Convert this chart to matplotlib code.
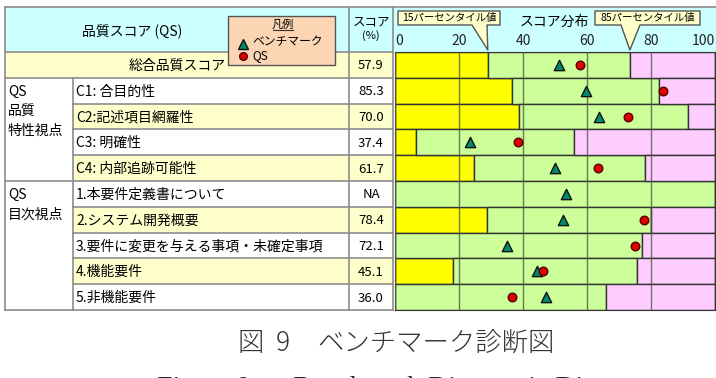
import matplotlib
matplotlib.use('Agg')
import matplotlib.pyplot as plt
from matplotlib.patches import Rectangle, Polygon
import numpy as np

plt.rcParams['font.family'] = ['Noto Sans CJK JP', 'DejaVu Sans']

# ---- data ----
items = ['総合品質スコア', 'C1: 合目的性', 'C2:記述項目網羅性', 'C3: 明確性', 'C4: 内部追跡可能性',
         '1.本要件定義書について', '2.システム開発概要', '3.要件に変更を与える事項・未確定事項',
         '4.機能要件', '5.非機能要件']
groups = [['QS', '品質', '特性視点'], ['QS', '目次視点']]
group_rows = [1, 5]
scores = [57.9, 85.3, 70.0, 37.4, 61.7, None, 78.4, 72.1, 45.1, 36.0]
p15 = [29.0, 36.5, 38.8, 6.5, 24.7, 0.0, 28.8, 0.0, 18.0, 0.0]
p85 = [73.4, 82.6, 91.5, 56.0, 78.1, 100.0, 79.9, 77.3, 75.7, 65.8]
bench = [51.2, 59.6, 63.8, 23.4, 50.0, 53.3, 52.4, 35.1, 44.3, 47.3]
qs_pos = [57.8, 83.8, 72.8, 38.3, 63.5, np.nan, 77.8, 75.0, 46.2, 36.6]
ticks = [0, 20, 40, 60, 80, 100]

W, H = 716, 378
fig = plt.figure(figsize=(W / 100, H / 100), dpi=100)
tab = fig.add_axes([0, 0, 1, 1])
tab.set_xlim(0, W)
tab.set_ylim(H, 0)
tab.axis('off')

# layout (pixels)
X0, XG, XL, XS, XR = 5, 73, 349, 393, 716
Y0, YH, RH = 7, 52, 25.8
n = len(items)
ry = [YH + RH * i for i in range(n + 1)]
BX0, BX1 = 395, 715
LC = '#8c8c8c'

# fills
tab.add_patch(Rectangle((X0, Y0), XR - X0, YH - Y0, fc='#ccffff', ec='none'))
for i in range(0, n, 2):
    x = X0 if i == 0 else XG
    tab.add_patch(Rectangle((x, ry[i]), XS - x, RH, fc='#ffffcc', ec='none'))

# table lines
tab.plot([X0, XR], [Y0, Y0], color=LC, lw=1.2)
for k in range(n + 1):
    x = X0 if k in (0, 1, 5, n) else XG
    tab.plot([x, XS], [ry[k], ry[k]], color=LC, lw=1.2)
tab.plot([X0, X0], [Y0, ry[-1]], color=LC, lw=1.2)
tab.plot([XG, XG], [ry[1], ry[-1]], color=LC, lw=1.2)
tab.plot([XL, XL], [Y0, ry[-1]], color=LC, lw=1.2)
tab.plot([XS, XS], [Y0, ry[-1]], color=LC, lw=1.2)

# texts
fs = 10
tab.text(132, 32, '品質スコア (QS)', ha='center', va='center', fontsize=fs)
tab.text(371, 22, 'スコア', ha='center', va='center', fontsize=9)
tab.text(371, 36, '(%)', ha='center', va='center', fontsize=8)
tab.text(554, 22, 'スコア分布', ha='center', va='center', fontsize=fs)
for i, (name, s) in enumerate(zip(items, scores)):
    yc = (ry[i] + ry[i + 1]) / 2 + 1
    if i == 0:
        tab.text((X0 + XL) / 2, yc, name, ha='center', va='center', fontsize=fs)
    else:
        tab.text(XG + 3, yc, name, ha='left', va='center', fontsize=fs)
    tab.text((XL + XS) / 2, yc, 'NA' if s is None else f'{s:.1f}',
             ha='center', va='center', fontsize=9.5)
for lines, r in zip(groups, group_rows):
    for j, t in enumerate(lines):
        tab.text(X0 + 3, (ry[r] + ry[r + 1]) / 2 + 1 + j * 19.7, t,
                 ha='left', va='center', fontsize=fs)

# legend box
tab.add_patch(Rectangle((228, 16), 107, 49, fc='#fcd5b4', ec='#555555', lw=1, zorder=5))
tab.text(283, 24, '凡例', ha='center', va='center', fontsize=8, zorder=6)
tab.plot([273, 293], [30, 30], color='#333333', lw=0.8, zorder=6)
tab.plot([243], [43.5], marker='^', ms=7, mfc='#00896a', mec='#111111', mew=1, zorder=6)
tab.text(252, 42, 'ベンチマーク', ha='left', va='center', fontsize=8.5, zorder=6)
tab.plot([243], [56], marker='o', ms=5.5, mfc='#e00000', mec='#550000', mew=1, zorder=6)
tab.text(252, 56, 'QS', ha='left', va='center', fontsize=8.5, zorder=6)


def px(v):
    return BX0 + v * (BX1 - BX0) / 100


# callouts
def callout(x0, x1, b0, b1, tip, label):
    pts = [(x0, 11), (x1, 11), (x1, 25), (b1, 25), (tip, 50), (b0, 25), (x0, 25)]
    tab.add_patch(Polygon(pts, closed=True, fc='#ffffcc', ec='#555555', lw=1,
                          joinstyle='round', zorder=5))
    tab.text((x0 + x1) / 2, 18, label, ha='center', va='center', fontsize=7.5, zorder=6)


callout(398, 500, 472, 487, px(p15[0]), '15パーセンタイル値')
callout(595, 700, 621, 640, px(p85[0]), '85パーセンタイル値')

# caption
tab.text(238, 343, '図', ha='left', va='center', fontsize=19, fontweight='light', color='#333333')
tab.text(276, 343, '9', ha='left', va='center', fontsize=19, fontweight='light', color='#333333')
tab.text(317, 343, 'ベンチマーク診断図', ha='left', va='center', fontsize=19,
         fontweight='light', color='#333333')
tab.text(157, 395, 'Figure 9', ha='left', va='baseline', fontsize=20,
         family='Liberation Serif', color='#222222')
tab.text(293, 395, 'Benchmark Diagnostic Diagram', ha='left', va='baseline', fontsize=20,
         family='Liberation Serif', color='#222222')

# bar area
ax = fig.add_axes([BX0 / W, (H - ry[-1]) / H, (BX1 - BX0) / W, (ry[-1] - YH) / H])
ax.set_xlim(0, 100)
ax.set_ylim(n, 0)
y = np.arange(n) + 0.5
lo = np.array(p15)
hi = np.array(p85)
ec = '#333333'
ax.barh(y, lo, height=1, color='#ffff00', edgecolor=ec, lw=1)
ax.barh(y, hi - lo, left=lo, height=1, color='#ccff99', edgecolor=ec, lw=1)
ax.barh(y, 100 - hi, left=hi, height=1, color='#ffccff', edgecolor=ec, lw=1)
ax.set_axisbelow(False)
ax.grid(axis='x', color='#4d5a40', lw=1, alpha=0.8)
ax.scatter(bench, y, marker='^', s=55, c='#00896a', edgecolors='#111111', linewidths=1, zorder=4)
ax.scatter(qs_pos, y, marker='o', s=38, c='#e00000', edgecolors='#550000', linewidths=1, zorder=5)
ax.set_yticks([])
ax.set_xticks(ticks)
ax.xaxis.tick_top()
ax.tick_params(axis='x', length=0, pad=3, labelsize=10, labelcolor='#222222')
tl = ax.get_xticklabels()
tl[0].set_ha('left')
tl[-1].set_ha('right')
for sp in ax.spines.values():
    sp.set_color('#333333')

fig.savefig('out.png', dpi=100)
